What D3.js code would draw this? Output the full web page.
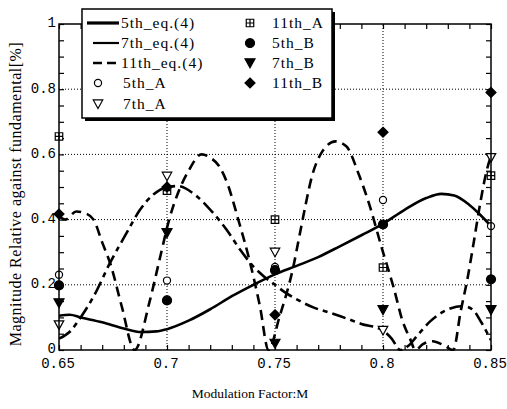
<!DOCTYPE html>
<html>
<head>
<meta charset="utf-8">
<script src="https://cdn.jsdelivr.net/npm/d3@7"></script>
<style>
  body { margin: 0; background: #fff; }
  svg { display: block; }
  .tick text { font-family: "Liberation Mono", "DejaVu Sans Mono", monospace; font-size: 14px; fill: #000; }
  .serif { font-family: "Liberation Serif", "DejaVu Serif", serif; fill: #000; }
</style>
</head>
<body>
<div id="chart"></div>
<script>
// ---- data ----
var xTickValues = [0.65, 0.7, 0.75, 0.8, 0.85];
var yTickValues = [0, 0.2, 0.4, 0.6, 0.8, 1];

// measured points (modulation factor)
var measuredM = [0.65, 0.70, 0.75, 0.80, 0.85];
var fifthA    = [0.231, 0.213, 0.255, 0.460, 0.380];
var seventhA  = [0.077, 0.533, 0.300, 0.060, 0.590];
var eleventhA = [0.655, 0.489, 0.400, 0.253, 0.535];
var fifthB    = [0.198, 0.152, 0.245, 0.385, 0.217];
var seventhB  = [0.144, 0.359, 0.020, 0.123, 0.123];
var eleventhB = [0.417, 0.500, 0.108, 0.668, 0.790];

// calculated curves eq.(4)  [M, magnitude]
var fifthEq = [[0.65,0.105],[0.655,0.108],[0.66,0.10],[0.67,0.085],[0.68,0.066],[0.688,0.055],
  [0.695,0.057],[0.70,0.064],[0.71,0.09],[0.72,0.125],[0.73,0.165],[0.74,0.20],[0.75,0.232],
  [0.76,0.258],[0.77,0.285],[0.78,0.318],[0.79,0.352],[0.80,0.387],[0.81,0.43],[0.82,0.466],
  [0.827,0.479],[0.833,0.474],[0.84,0.445],[0.845,0.415],[0.85,0.38]];

var seventhEq = [[0.65,0.035],[0.655,0.056],[0.66,0.10],[0.666,0.164],[0.6736,0.267],[0.6813,0.359],
  [0.6875,0.43],[0.6937,0.477],[0.70,0.50],[0.705,0.503],[0.7137,0.472],[0.7214,0.42],[0.7276,0.369],
  [0.7338,0.308],[0.74,0.256],[0.745,0.225],[0.75,0.20],[0.755,0.175],[0.761,0.152],[0.768,0.13],
  [0.775,0.115],[0.783,0.097],[0.79,0.08],[0.7994,0.062],[0.804,0.035],[0.808,0.0],[0.8116,0.012],
  [0.816,0.045],[0.8217,0.087],[0.828,0.118],[0.837,0.135],[0.8417,0.123],[0.8455,0.085],[0.85,0.03]];

var eleventhEq = [[0.65,0.41],[0.653,0.40],[0.658,0.425],[0.662,0.42],[0.666,0.40],[0.67,0.33],
  [0.674,0.26],[0.679,0.135],[0.685,0.0],[0.692,0.15],[0.697,0.29],[0.701,0.40],[0.705,0.48],
  [0.71,0.55],[0.716,0.60],[0.72,0.59],[0.724,0.565],[0.728,0.51],[0.733,0.40],[0.738,0.28],
  [0.743,0.135],[0.747,0.0],[0.752,0.10],[0.7585,0.256],[0.7616,0.36],[0.764,0.44],[0.767,0.53],
  [0.772,0.61],[0.778,0.64],[0.783,0.625],[0.789,0.535],[0.793,0.46],[0.80,0.30],[0.805,0.19],
  [0.809,0.09],[0.8125,0.035],[0.815,0.0],[0.8185,0.018],[0.823,0.027],[0.828,0.015],[0.8325,0.0],
  [0.836,0.12],[0.839,0.215],[0.842,0.33],[0.845,0.45],[0.848,0.55],[0.85,0.595]];

// ---- layout ----
var svgWidth = 507, svgHeight = 409;
var margin = {top: 24, right: 16, bottom: 59, left: 59};
var chartWidth = svgWidth - margin.left - margin.right;
var chartHeight = svgHeight - margin.top - margin.bottom;

var svg = d3.select("#chart").append("svg")
  .attr("width", svgWidth).attr("height", svgHeight);

var x = d3.scaleLinear().domain([0.65, 0.85]).range([margin.left, margin.left + chartWidth]);
var y = d3.scaleLinear().domain([0, 1]).range([margin.top + chartHeight, margin.top]);
var fmt = d3.format("~g");

// gridlines (dotted)
var grid = svg.append("g").attr("stroke", "#000").attr("stroke-width", 1).attr("stroke-dasharray", "1,2");
grid.selectAll("line.gx").data(xTickValues.slice(1, -1)).enter().append("line")
  .attr("x1", d => x(d)).attr("x2", d => x(d)).attr("y1", y(0)).attr("y2", y(1));
grid.selectAll("line.gy").data(yTickValues.slice(1, -1)).enter().append("line")
  .attr("y1", d => y(d)).attr("y2", d => y(d)).attr("x1", x(0.65)).attr("x2", x(0.85));

// minor tick values
var xMinor = d3.range(0, 21).map(i => 0.65 + i * 0.01);
var yMinor = d3.range(0, 21).map(i => i * 0.05);

function tickAxis(axis, pos, vals) {
  var g = svg.append("g").attr("transform", pos)
    .call(axis.tickValues(vals).tickSize(5).tickFormat("").tickSizeOuter(0));
  g.select(".domain").remove();
  g.selectAll(".tick line").attr("stroke", "#000").attr("stroke-width", 1.2);
  return g;
}
// inward ticks on all four sides
tickAxis(d3.axisTop(x), `translate(0,${y(0)})`, xMinor);
tickAxis(d3.axisBottom(x), `translate(0,${y(1)})`, xMinor);
tickAxis(d3.axisRight(y), `translate(${x(0.65)},0)`, yMinor);
tickAxis(d3.axisLeft(y), `translate(${x(0.85)},0)`, yMinor);

// tick labels
var xLab = svg.append("g").attr("transform", `translate(0,${y(0)})`)
  .call(d3.axisBottom(x).tickValues(xTickValues).tickSize(0).tickPadding(8).tickFormat(fmt));
xLab.select(".domain").remove();
xLab.selectAll(".tick text").attr("dx", "-1.5");
var yLab = svg.append("g").attr("transform", `translate(${x(0.65)},0)`)
  .call(d3.axisLeft(y).tickValues(yTickValues).tickSize(0).tickPadding(3).tickFormat(fmt));
yLab.select(".domain").remove();
yLab.selectAll(".tick text").attr("dy", "0.2em");

// clip for curves
svg.append("clipPath").attr("id", "plotClip").append("rect")
  .attr("x", x(0.65)).attr("y", y(1)).attr("width", chartWidth).attr("height", chartHeight + 1);

var line = d3.line().x(d => x(d[0])).y(d => y(d[1])).curve(d3.curveMonotoneX);

var curves = svg.append("g").attr("clip-path", "url(#plotClip)")
  .attr("fill", "none").attr("stroke", "#000");
curves.append("path").datum(fifthEq).attr("d", line).attr("stroke-width", 2.6);
curves.append("path").datum(seventhEq).attr("d", line).attr("stroke-width", 2.6)
  .attr("stroke-dasharray", "14,5,5,5");
curves.append("path").datum(eleventhEq).attr("d", line).attr("stroke-width", 2.6)
  .attr("stroke-dasharray", "10,6");

// marker shapes
var downTri = {draw: function(ctx, size) {
  var w = Math.sqrt(size) / 2;
  ctx.moveTo(-w, -w * 0.85); ctx.lineTo(w, -w * 0.85); ctx.lineTo(0, w * 0.95); ctx.closePath();
}};
var boxPlus = {draw: function(ctx, size) {
  var s = Math.sqrt(size) / 2;
  ctx.moveTo(-s, -s); ctx.lineTo(s, -s); ctx.lineTo(s, s); ctx.lineTo(-s, s); ctx.closePath();
  ctx.moveTo(0, -s); ctx.lineTo(0, s); ctx.moveTo(-s, 0); ctx.lineTo(s, 0);
}};
var diamond = {draw: function(ctx, size) {
  var s = Math.sqrt(size) / 2;
  ctx.moveTo(0, -s); ctx.lineTo(s, 0); ctx.lineTo(0, s); ctx.lineTo(-s, 0); ctx.closePath();
}};

var series = [
  {name: "5th_A",  vals: fifthA,    type: d3.symbolCircle, size: 40,  fill: "#fff"},
  {name: "7th_A",  vals: seventhA,  type: downTri,         size: 90,  fill: "#fff"},
  {name: "11th_A", vals: eleventhA, type: boxPlus,         size: 56,  fill: "#fff"},
  {name: "5th_B",  vals: fifthB,    type: d3.symbolCircle, size: 64,  fill: "#000"},
  {name: "7th_B",  vals: seventhB,  type: downTri,         size: 100, fill: "#000"},
  {name: "11th_B", vals: eleventhB, type: diamond,         size: 100, fill: "#000"}
];

var markers = svg.append("g");
series.forEach(function(s) {
  markers.append("g").selectAll("path").data(s.vals).enter().append("path")
    .attr("transform", (d, i) => `translate(${x(measuredM[i])},${y(d)})`)
    .attr("d", d3.symbol().type(s.type).size(s.size))
    .attr("fill", s.fill).attr("stroke", "#000").attr("stroke-width", 1.2);
});

// plot frame
svg.append("rect").attr("x", x(0.65)).attr("y", y(1)).attr("width", chartWidth).attr("height", chartHeight)
  .attr("fill", "none").attr("stroke", "#000").attr("stroke-width", 1.5);

// axis titles
svg.append("text").attr("class", "serif")
  .attr("transform", "translate(21,194) rotate(-90)")
  .attr("text-anchor", "middle").style("font-size", "16px").style("letter-spacing", "0.5px")
  .text("Magnitude Relative against fundamental[%]");
svg.append("text").attr("class", "serif")
  .attr("x", 250).attr("y", 398).attr("text-anchor", "middle").style("font-size", "13.5px")
  .text("Modulation Factor:M");

// legend
var legend = svg.append("g");
legend.append("rect").attr("x", 85).attr("y", 12).attr("width", 250).attr("height", 109).attr("fill", "#000");
legend.append("rect").attr("x", 82).attr("y", 9).attr("width", 250).attr("height", 109)
  .attr("fill", "#fff").attr("stroke", "#000").attr("stroke-width", 1.5);

var rowY = [23, 43, 63, 83, 104];
var legLines = [
  {name: "5th_eq.(4)",  x1: 87, width: 3.2, dash: null},
  {name: "7th_eq.(4)",  x1: 93, width: 2.2, dash: null},
  {name: "11th_eq.(4)", x1: 93, width: 2.6, dash: "9,5"}
];
legLines.forEach(function(l, i) {
  legend.append("line").attr("x1", l.x1).attr("x2", 119).attr("y1", rowY[i]).attr("y2", rowY[i])
    .attr("stroke", "#000").attr("stroke-width", l.width).attr("stroke-dasharray", l.dash);
  legend.append("text").attr("class", "serif").attr("x", 121).attr("y", rowY[i] + 5)
    .style("font-size", "15.5px").style("letter-spacing", "1px").text(l.name);
});
var legMarks = [
  {s: series[0], x: 98,  y: rowY[3]},
  {s: series[1], x: 98,  y: rowY[4]},
  {s: series[2], x: 250, y: rowY[0]},
  {s: series[3], x: 250, y: rowY[1]},
  {s: series[4], x: 250, y: rowY[2]},
  {s: series[5], x: 250, y: rowY[3]}
];
legMarks.forEach(function(m) {
  legend.append("path").attr("transform", `translate(${m.x},${m.y})`)
    .attr("d", d3.symbol().type(m.s.type).size(m.s.size))
    .attr("fill", m.s.fill).attr("stroke", "#000").attr("stroke-width", 1.2);
  legend.append("text").attr("class", "serif").attr("x", m.x < 200 ? 123 : 272).attr("y", m.y + 5)
    .style("font-size", "15.5px").style("letter-spacing", "1px").text(m.s.name);
});
</script>
</body>
</html>
